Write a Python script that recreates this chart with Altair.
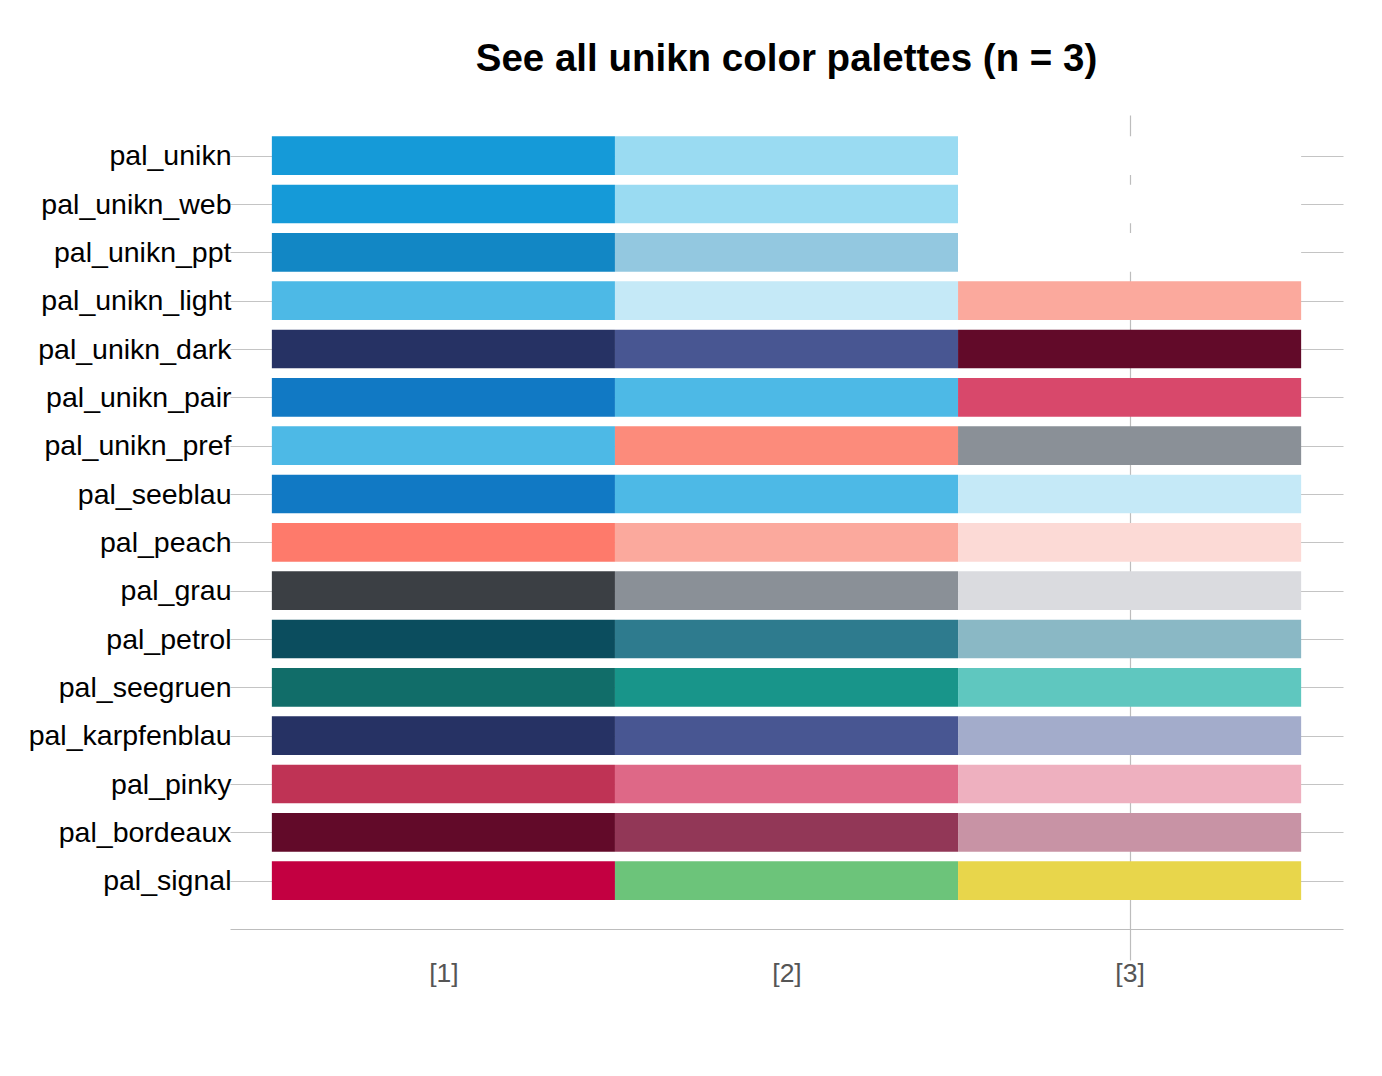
import altair as alt
import pandas as pd

palettes = [
    "pal_unikn", "pal_unikn_web", "pal_unikn_ppt", "pal_unikn_light",
    "pal_unikn_dark", "pal_unikn_pair", "pal_unikn_pref", "pal_seeblau",
    "pal_peach", "pal_grau", "pal_petrol", "pal_seegruen",
    "pal_karpfenblau", "pal_pinky", "pal_bordeaux", "pal_signal",
]

col1 = ["#159AD8", "#159AD8", "#1287C5", "#4DB9E6", "#263264", "#1179C4",
        "#4DB9E6", "#1179C4", "#FE7A6B", "#3B3F44", "#0B4D5E", "#116D69",
        "#263264", "#BF3355", "#620A29", "#C30041"]
col2 = ["#9ADBF2", "#9ADBF2", "#93C8E0", "#C5E9F7", "#485692", "#4DB9E6",
        "#FC8B7B", "#4DB9E6", "#FBA99D", "#8A9097", "#2E7B8E", "#18958A",
        "#485692", "#DE6887", "#923757", "#6CC47A"]
col3 = ["#FFFFFF", "#FFFFFF", "#FFFFFF", "#FBA99D", "#620A29", "#D8486B",
        "#8A9097", "#C5E9F7", "#FCDAD6", "#DADBDF", "#8AB8C5", "#5FC7BF",
        "#A3ACCB", "#EEB0BF", "#C893A5", "#E8D64B"]

col_index = [1, 2, 3]

rows = []
for r, name in enumerate(palettes, start=1):
    for k, cols in zip(col_index, [col1, col2, col3]):
        rows.append({
            "palette": name, "row": r, "k": k,
            "x0": k - 0.5, "x1": k + 0.5,
            "y0": r - 0.4, "y1": r + 0.4,
            "color": cols[r - 1],
        })
df = pd.DataFrame(rows)

label_expr = "[" + ",".join("'" + p + "'" for p in palettes) + "][datum.value - 1]"

x_scale = alt.Scale(domain=[0.378, 3.622], nice=False, zero=False)
y_scale = alt.Scale(domain=[0.158, 17], nice=False, zero=False, reverse=True)

chart = alt.Chart(df).mark_rect().encode(
    x=alt.X("x0:Q", scale=x_scale, title=None,
            axis=alt.Axis(values=col_index,
                          labelExpr="'[' + datum.value + ']'",
                          grid=True,
                          gridColor=alt.condition("datum.value == 3", alt.value("#BDBDBD"), alt.value("transparent")),
                          gridWidth=1.2,
                          ticks=True, tickSize=31, tickWidth=1.2,
                          tickColor=alt.condition("datum.value == 3", alt.value("#BDBDBD"), alt.value("transparent")),
                          domain=True, domainColor="#BDBDBD", domainWidth=1.2,
                          labelPadding=0, labelFontSize=26.5, labelColor="#555555",
                          labelFont="Liberation Sans", labelAngle=0)),
    x2="x1:Q",
    y=alt.Y("y0:Q", scale=y_scale, title=None,
            axis=alt.Axis(values=list(range(1, len(palettes) + 1)),
                          labelExpr=label_expr,
                          grid=True, gridColor="#C4C4C4", gridWidth=1.2,
                          ticks=False, domain=False, labelLimit=0,
                          labelPadding=-1, labelFontSize=28.5, labelColor="#000000",
                          labelFont="Liberation Sans", labelAlign="right")),
    y2="y1:Q",
    color=alt.Color("color:N", scale=None, legend=None),
).properties(
    width=1113,
    height=814,
    title=alt.TitleParams("See all unikn color palettes (n = 3)",
                          fontSize=38.5, fontWeight="bold", font="Liberation Sans",
                          color="#000000", anchor="middle", offset=36),
    autosize=alt.AutoSizeParams(type="none"),
    padding={"left": 230, "top": 115, "right": 39, "bottom": 147},
    background="white",
).configure_view(stroke=None)

chart.save("out.html", embed_options={"renderer": "svg", "actions": False})
